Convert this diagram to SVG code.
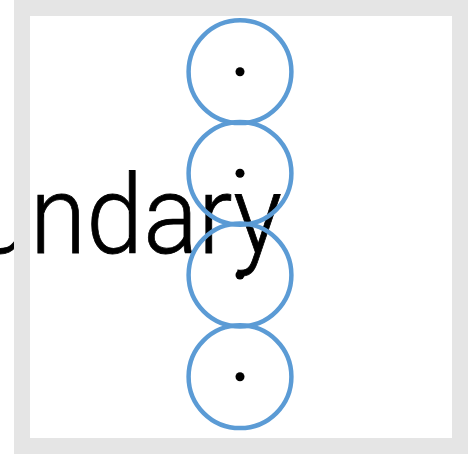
<svg xmlns="http://www.w3.org/2000/svg" width="474" height="454" viewBox="0 0 474 454">
<style>
.node circle.ring{fill:none;stroke:#5B9BD5;stroke-width:4.5}
.node circle.dot{fill:#000}
.lbl{font-family:Roboto,"Liberation Sans",sans-serif;font-weight:300;font-size:110px;fill:#000;stroke:#000;stroke-width:0.8}
</style>
<rect x="0" y="0" width="474" height="454" fill="#fff"/>
<text class="lbl" transform="translate(282,253) scale(0.93,1)" x="0" y="0" text-anchor="end">Boundary</text>
<rect x="22" y="8" width="438" height="438" fill="none" stroke="#E5E5E5" stroke-width="16"/>
<g id="connectors"></g>
<g id="n1" class="node"><circle class="ring" cx="240" cy="71.7" r="51.4"/><circle class="dot" cx="240" cy="71.7" r="4.5"/></g>
<g id="n2" class="node"><circle class="ring" cx="240" cy="173.3" r="51.4"/><circle class="dot" cx="240" cy="173.3" r="4.5"/></g>
<g id="n3" class="node"><circle class="ring" cx="240" cy="275" r="51.4"/><circle class="dot" cx="240" cy="275" r="4.5"/></g>
<g id="n4" class="node"><circle class="ring" cx="240" cy="376.7" r="51.4"/><circle class="dot" cx="240" cy="376.7" r="4.5"/></g>
</svg>
